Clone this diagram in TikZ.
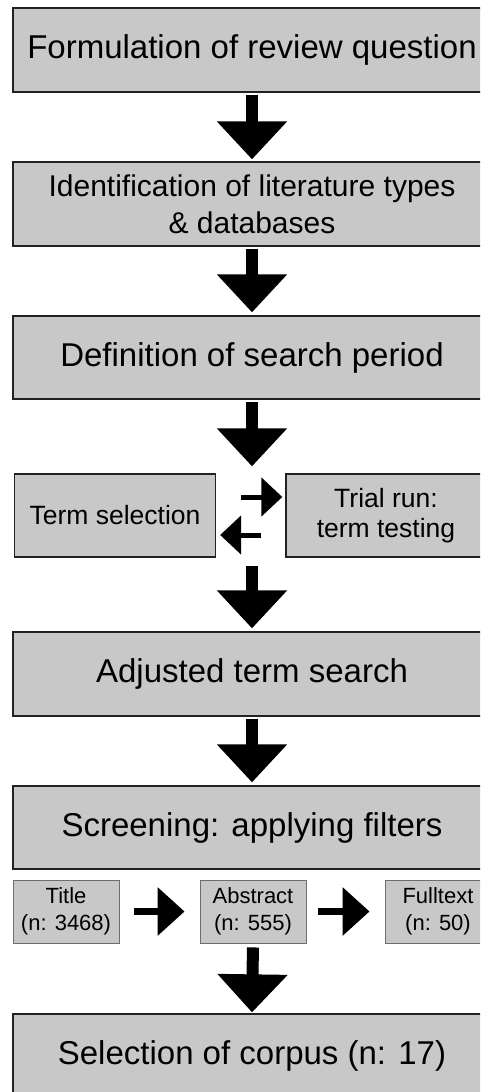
\documentclass[tikz,border=0pt]{standalone}
\usepackage{fontspec}
\setmainfont{Liberation Sans}
\usetikzlibrary{arrows.meta}
\definecolor{boxfill}{RGB}{200,200,200}
\definecolor{boxline}{RGB}{34,34,34}
\definecolor{filterline}{RGB}{110,110,110}
\tikzset{
  stage/.style={draw=boxline, line width=1.3pt, fill=boxfill, inner sep=0pt,
    minimum width=478pt, minimum height=84pt, align=center,
    font=\fontsize{33}{37}\selectfont},
  side/.style={stage, minimum width=201pt, minimum height=83pt,
    font=\fontsize{26.5}{30}\selectfont},
  filter/.style={draw=filterline, line width=.9pt, fill=boxfill, inner sep=0pt,
    minimum width=106pt, minimum height=63pt, align=center,
    font=\fontsize{22}{27}\selectfont},
  bigarrow/.style={line width=12pt, -{Triangle[width=68pt,length=38pt]}},
  smallarrow/.style={line width=5pt, -{Triangle[width=38pt,length=21pt]}},
  filterarrow/.style={line width=7pt, -{Triangle[width=47pt,length=27pt]}}
}
\begin{document}
\begin{tikzpicture}[x=1pt,y=-1pt]
\useasboundingbox (0,0) rectangle (480,1092);
\clip (0,0) rectangle (480,1092);
\node[stage] (question) at (252,50) {Formulation of review question};
\node[stage, font=\fontsize{30}{37}\selectfont] (types) at (252,204) {Identification of literature types\\ \& databases};
\node[stage, minimum height=83pt] (period) at (252,357.5) {Definition of search period};
\node[side] (sel) at (115,515.5) {Term selection};
\node[side, minimum width=200pt] (trial) at (386,515.5) {Trial run:\\ term testing};
\node[stage] (adjusted) at (252,674) {Adjusted term search};
\node[stage, minimum height=83pt] (screen) at (252,827.5) {Screening: applying filters};
\node[filter] (title) at (66,911.5) {Title\\ (n: 3468)};
\node[filter] (abstract) at (253,911.5) {Abstract\\ (n: 555)};
\node[filter] (fulltext) at (438,911.5) {Fulltext\\ (n: 50)};
\node[stage] (corpus) at (252,1056) {Selection of corpus (n: 17)};
\draw[bigarrow, shorten <=2pt, shorten >=2pt] (question.south) -- (types.north);
\draw[bigarrow, shorten <=2pt, shorten >=3pt] (types.south) -- (period.north);
\draw[bigarrow, shorten <=2pt, shorten >=7pt] (period.south) -- (period.south |- sel.north);
\draw[smallarrow, shorten <=25pt, shorten >=3pt] ([yshift=18.5pt]sel.east) -- ([yshift=18.5pt]trial.west);
\draw[smallarrow, shorten <=24pt, shorten >=4pt] ([yshift=-19.5pt]trial.west) -- ([yshift=-19.5pt]sel.east);
\draw[bigarrow, shorten <=8pt, shorten >=3pt] (adjusted.north |- sel.south) -- (adjusted.north);
\draw[bigarrow, shorten <=2pt, shorten >=3pt] (adjusted.south) -- (screen.north);
\draw[filterarrow, shorten <=15pt, shorten >=15pt] (title.east) -- (abstract.west);
\draw[filterarrow, shorten <=12pt, shorten >=15pt] (abstract.east) -- (fulltext.west);
\draw[bigarrow, shorten <=4pt, shorten >=1pt] (abstract.south) -- (corpus.north);
\end{tikzpicture}
\end{document}
